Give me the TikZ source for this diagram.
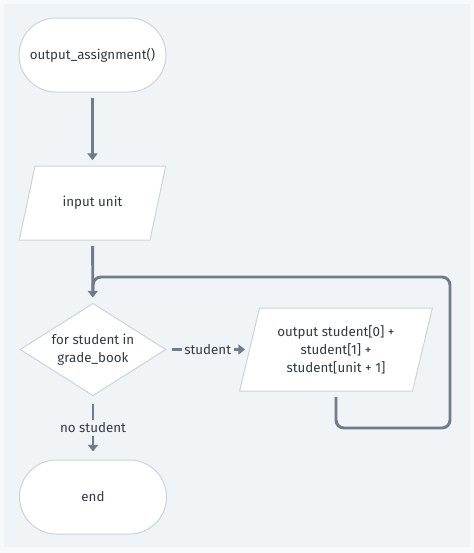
\documentclass[tikz,border=0pt]{standalone}
\usepackage{fontspec}
\setmainfont{Fira Sans}
\usepackage{tikz}
\usetikzlibrary{shapes.geometric, arrows.meta}
\definecolor{outerbg}{HTML}{F8F9FB}
\definecolor{innerbg}{HTML}{F1F4F7}
\definecolor{flowgrey}{HTML}{6E7C8B}
\definecolor{boxline}{HTML}{CDD3DA}
\definecolor{textgrey}{HTML}{333A44}

\begin{document}
\begin{tikzpicture}[x=0.75pt, y=-0.75pt,
	every node/.style={font=\fontsize{10}{13.5}\selectfont, text=textgrey},
	terminal/.style={draw=boxline, line width=0.75pt, fill=white, minimum width=110.25pt, minimum height=55.5pt, rounded corners=27.7pt},
	iobox/.style={trapezium, trapezium stretches=true, draw=boxline, line width=0.75pt, fill=white, align=center},
	decision/.style={diamond, draw=boxline, line width=0.75pt, fill=white, align=center, inner sep=-4pt, minimum width=109.5pt, minimum height=54.75pt},
	flow/.style={draw=flowgrey, line width=2.2pt, -{Triangle[length=5pt, width=7.5pt]}, shorten <=4pt, shorten >=4pt},
	flowlabel/.style={fill=innerbg, inner sep=2pt}]
	% background
	\fill[outerbg] (0,0) rectangle (474,553);
	\fill[innerbg] (4,4) rectangle (470,547);
	% shapes
	\node[terminal] (start) at (92.5,55) {output\_assignment()};
	\node[iobox, trapezium left angle=67, trapezium right angle=113, minimum width=110.25pt, minimum height=55.5pt] (input) at (92.5,203) {input unit};
	\node[decision] (fork) at (93,349.5) {for student in\\grade\_book};
	\node[iobox, trapezium left angle=74, trapezium right angle=106, minimum width=144.75pt, minimum height=62.25pt] (out) at (336,349.5) {output student[0] +\\student[1] +\\student[unit + 1]};
	\node[terminal] (end) at (93,497) {end};
	% loop corners
	\coordinate (loopbr) at (450,428);
	\coordinate (looptr) at (450,277);
	% connectors
	\draw[flow] (start) -- (input);
	\draw[flowgrey, line width=2.2pt, rounded corners=6pt, shorten <=4pt, shorten >=10pt] (out.south) |- (loopbr) -- (looptr) -| (fork.north);
	\draw[flow] (input) -- (fork);
	\draw[flow, shorten >=3pt] (fork.east) -- (fork.east -| out.west) node[flowlabel, midway] {student};
	\draw[flow, shorten <=6pt, shorten >=6pt] (fork.south) -- (end.north) node[flowlabel, midway] {no student};
\end{tikzpicture}
\end{document}
